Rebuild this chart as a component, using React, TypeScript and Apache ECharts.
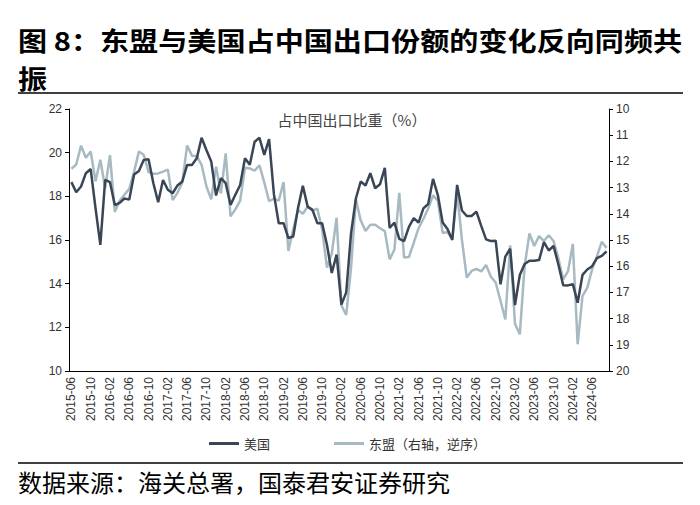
import React, { useEffect, useRef } from "react";
import * as echarts from "echarts";

// Monthly categories, 2015-06 .. 2024-09
const START_YEAR = 2015;
const START_MONTH = 6;
const MONTH_COUNT = 112;
const months: string[] = Array.from({ length: MONTH_COUNT }, (_, i) => {
  const t = START_MONTH - 1 + i;
  const y = START_YEAR + Math.floor(t / 12);
  const m = (t % 12) + 1;
  return `${y}-${String(m).padStart(2, "0")}`;
});

// 美国占中国出口比重（%，左轴）
const usShare = [
  18.65, 18.19, 18.45, 19.06, 19.25, 17.46, 15.78, 18.75, 18.65, 17.6,
  17.7, 17.9, 17.85, 19.0, 19.16, 19.67, 19.7, 18.6, 17.73, 18.75,
  18.3, 18.14, 18.5, 18.68, 19.44, 19.44, 19.74, 20.68, 20.12, 19.6,
  18.04, 18.83, 18.6, 17.61, 18.07, 18.52, 19.74, 19.45, 20.5, 20.68,
  19.9, 20.62, 18.1, 16.77, 16.77, 16.09, 16.16, 17.46, 18.48, 17.53,
  17.38, 16.77, 16.77, 15.78, 14.49, 15.33, 13.04, 13.6, 16.3, 17.9,
  18.68, 18.5, 19.06, 18.37, 18.55, 19.3, 16.55, 16.8, 16.05, 15.95,
  16.6, 17.0, 16.8, 17.45, 17.65, 18.8, 18.06, 16.8, 16.5, 16.0,
  18.52, 17.35, 17.1, 17.1, 17.3, 16.65, 16.03, 15.95, 15.97, 13.97,
  15.24, 15.6, 13.02, 14.4, 14.9, 15.05, 15.05, 15.08, 15.9, 15.52,
  15.73, 14.88, 13.93, 13.92, 13.98, 13.13, 14.4, 14.65, 14.8, 15.17,
  15.27, 15.48,
];

// 东盟占中国出口比重（%，右轴，逆序）
const aseanShare = [
  12.28, 12.12, 11.4, 11.86, 11.62, 12.76, 11.94, 13.02, 11.76, 13.93,
  13.5, 13.27, 13.05, 12.39, 11.62, 11.75, 12.41, 12.47, 12.46, 12.39,
  12.31, 13.48, 13.2, 12.8, 11.39, 11.78, 11.8, 12.13, 12.95, 13.45,
  12.2, 13.22, 11.69, 14.1, 13.83, 13.5, 12.24, 12.27, 12.35, 12.15,
  12.8, 13.52, 13.42, 13.5, 12.79, 15.42, 14.6, 13.85, 14.0, 13.73,
  13.88, 13.8, 14.6, 16.05, 15.52, 14.15, 17.5, 17.86, 16.07, 13.45,
  14.25, 14.66, 14.42, 14.42, 14.55, 14.66, 15.74, 15.36, 13.2, 15.67,
  15.65, 15.11, 14.55, 14.2, 13.8, 13.3, 13.5, 14.73, 14.7, 14.95,
  13.2, 15.0, 16.43, 16.18, 16.1, 16.2, 15.95, 16.4, 16.62, 17.33,
  18.03, 15.2, 18.2, 18.6, 16.0, 14.75, 15.23, 14.85, 15.04, 14.82,
  15.04, 15.7, 16.5, 16.19, 15.15, 18.98, 17.14, 16.82, 16.12, 15.62,
  15.07, 15.3,
];

const TITLE_LINE1 = "图 8：东盟与美国占中国出口份额的变化反向同频共";
const TITLE_LINE2 = "振";
const INNER_TITLE = "占中国出口比重（%）";
const SOURCE = "数据来源：海关总署，国泰君安证券研究";
const US_NAME = "美国";
const ASEAN_NAME = "东盟（右轴，逆序）";

const CJK = '"Noto Sans CJK SC", "Noto Sans", sans-serif';
const LATIN = '"Liberation Sans", Arial, sans-serif';

export default function App() {
  const ref = useRef<HTMLDivElement>(null);
  useEffect(() => {
    if (!ref.current) return;
    const chart = echarts.init(ref.current, undefined, { renderer: "svg" });
    chart.setOption({
      animation: false,
      backgroundColor: "#ffffff",
      grid: { left: 69, right: 91, top: 109, bottom: 134 },
      xAxis: {
        type: "category",
        data: months,
        boundaryGap: true,
        axisLine: { lineStyle: { color: "#000", width: 1 } },
        axisTick: { interval: 3, length: 4, lineStyle: { color: "#000" } },
        axisLabel: {
          interval: 3,
          rotate: 90,
          fontSize: 12,
          color: "#333",
          fontFamily: LATIN,
          margin: 6,
        },
      },
      yAxis: [
        {
          type: "value",
          min: 10,
          max: 22,
          interval: 2,
          position: "left",
          axisLine: { show: true, lineStyle: { color: "#000" } },
          axisTick: { show: true, length: 4, lineStyle: { color: "#000" } },
          splitLine: { show: false },
          axisLabel: { fontSize: 12, color: "#333", fontFamily: LATIN, margin: 7 },
        },
        {
          type: "value",
          min: 10,
          max: 20,
          interval: 1,
          inverse: true,
          position: "right",
          axisLine: { show: true, lineStyle: { color: "#000" } },
          axisTick: { show: true, length: 4, lineStyle: { color: "#000" } },
          splitLine: { show: false },
          axisLabel: { fontSize: 12, color: "#333", fontFamily: LATIN, margin: 7 },
        },
      ],
      legend: {
        data: [US_NAME, ASEAN_NAME],
        left: 204,
        top: 432,
        icon: "rect",
        itemWidth: 30,
        itemHeight: 3,
        itemGap: 64,
        itemStyle: { borderWidth: 0 },
        textStyle: { fontSize: 13, color: "#333", fontFamily: CJK },
      },
      series: [
        {
          name: ASEAN_NAME,
          type: "line",
          yAxisIndex: 1,
          data: aseanShare,
          showSymbol: false,
          symbol: "none",
          lineStyle: { color: "#a8bac1", width: 2.5 },
          itemStyle: { color: "#a8bac1" },
        },
        {
          name: US_NAME,
          type: "line",
          yAxisIndex: 0,
          data: usShare,
          showSymbol: false,
          symbol: "none",
          lineStyle: { color: "#3a4556", width: 2.5 },
          itemStyle: { color: "#3a4556" },
        },
      ],
      graphic: [
        {
          type: "text",
          x: 18,
          y: 39.5,
          scaleX: 1.12,
          style: {
            text: TITLE_LINE1,
            fontSize: 26,
            fontWeight: "bold",
            fontFamily: CJK,
            fill: "#000",
            align: "left",
            verticalAlign: "middle",
          },
        },
        {
          type: "text",
          x: 18,
          y: 77.3,
          scaleX: 1.12,
          style: {
            text: TITLE_LINE2,
            fontSize: 26,
            fontWeight: "bold",
            fontFamily: CJK,
            fill: "#000",
            align: "left",
            verticalAlign: "middle",
          },
        },
        {
          type: "line",
          shape: { x1: 18, y1: 93, x2: 683, y2: 93 },
          style: { stroke: "#000", lineWidth: 1.5 },
        },
        {
          type: "text",
          x: 352,
          y: 119,
          style: {
            text: INNER_TITLE,
            fontSize: 15,
            fontFamily: CJK,
            fill: "#444",
            align: "center",
            verticalAlign: "middle",
          },
        },
        {
          type: "line",
          shape: { x1: 18, y1: 463, x2: 683, y2: 463 },
          style: { stroke: "#000", lineWidth: 1.5 },
        },
        {
          type: "text",
          x: 18,
          y: 481,
          style: {
            text: SOURCE,
            fontSize: 24,
            fontFamily: CJK,
            fill: "#000",
            align: "left",
            verticalAlign: "middle",
          },
        },
      ],
    });
    return () => chart.dispose();
  }, []);
  return (
    <div
      ref={ref}
      style={{ position: "absolute", left: 0, top: 0, width: 700, height: 505 }}
    />
  );
}
